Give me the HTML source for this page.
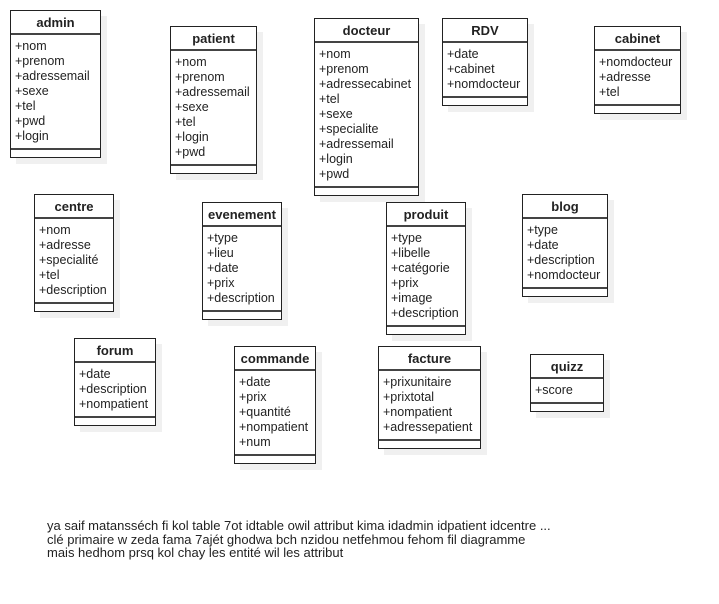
<!DOCTYPE html>
<html><head><meta charset="utf-8"><style>
body{margin:0;width:719px;height:604px;background:#fff;position:relative;font-family:"Liberation Sans",sans-serif;overflow:hidden}
.b{position:absolute;border:1px solid #222;background:#fff;box-shadow:6px 6px 0 #f0f0f0;box-sizing:border-box}
.h{height:24px;border-bottom:2px solid #444;font-weight:bold;font-size:13px;text-align:center;line-height:24px;color:#222;box-sizing:border-box}
.a{padding:4px 0 4px 4px;font-size:12.5px;line-height:15px;color:#222;border-bottom:2px solid #444;white-space:nowrap}
.f{height:7px}
.t{position:absolute;left:47px;top:519px;font-size:13px;line-height:13.5px;color:#222}
</style></head><body>
<div class="b" style="left:10px;top:10px;width:91px"><div class="h">admin</div><div class="a">+nom<br>+prenom<br>+adressemail<br>+sexe<br>+tel<br>+pwd<br>+login</div><div class="f"></div></div>
<div class="b" style="left:170px;top:26px;width:87px"><div class="h">patient</div><div class="a">+nom<br>+prenom<br>+adressemail<br>+sexe<br>+tel<br>+login<br>+pwd</div><div class="f"></div></div>
<div class="b" style="left:314px;top:18px;width:105px"><div class="h">docteur</div><div class="a">+nom<br>+prenom<br>+adressecabinet<br>+tel<br>+sexe<br>+specialite<br>+adressemail<br>+login<br>+pwd</div><div class="f"></div></div>
<div class="b" style="left:442px;top:18px;width:86px"><div class="h">RDV</div><div class="a">+date<br>+cabinet<br>+nomdocteur</div><div class="f"></div></div>
<div class="b" style="left:594px;top:26px;width:87px"><div class="h">cabinet</div><div class="a">+nomdocteur<br>+adresse<br>+tel</div><div class="f"></div></div>
<div class="b" style="left:34px;top:194px;width:80px"><div class="h">centre</div><div class="a">+nom<br>+adresse<br>+specialité<br>+tel<br>+description</div><div class="f"></div></div>
<div class="b" style="left:202px;top:202px;width:80px"><div class="h">evenement</div><div class="a">+type<br>+lieu<br>+date<br>+prix<br>+description</div><div class="f"></div></div>
<div class="b" style="left:386px;top:202px;width:80px"><div class="h">produit</div><div class="a">+type<br>+libelle<br>+catégorie<br>+prix<br>+image<br>+description</div><div class="f"></div></div>
<div class="b" style="left:522px;top:194px;width:86px"><div class="h">blog</div><div class="a">+type<br>+date<br>+description<br>+nomdocteur</div><div class="f"></div></div>
<div class="b" style="left:74px;top:338px;width:82px"><div class="h">forum</div><div class="a">+date<br>+description<br>+nompatient</div><div class="f"></div></div>
<div class="b" style="left:234px;top:346px;width:82px"><div class="h">commande</div><div class="a">+date<br>+prix<br>+quantité<br>+nompatient<br>+num</div><div class="f"></div></div>
<div class="b" style="left:378px;top:346px;width:103px"><div class="h">facture</div><div class="a">+prixunitaire<br>+prixtotal<br>+nompatient<br>+adressepatient</div><div class="f"></div></div>
<div class="b" style="left:530px;top:354px;width:74px"><div class="h">quizz</div><div class="a">+score</div><div class="f"></div></div>
<div class="t">ya saif matansséch fi kol table 7ot idtable owil attribut kima idadmin idpatient idcentre ...<br>clé primaire w zeda fama 7ajét ghodwa bch nzidou netfehmou fehom fil diagramme<br>mais hedhom prsq kol chay les entité wil les attribut</div>
</body></html>
